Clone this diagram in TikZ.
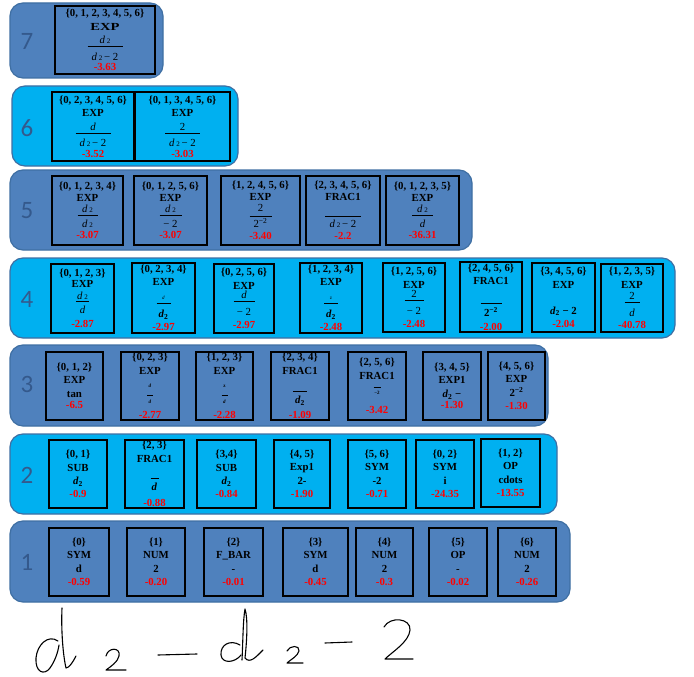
\documentclass[tikz,border=0pt]{standalone}
\usepackage{fontspec}
\setmainfont{Liberation Serif}
\newfontfamily\labfont{Carlito}
\definecolor{panD}{HTML}{4F81BD}
\definecolor{panL}{HTML}{00B0F0}
\definecolor{panE}{HTML}{3F6FA3}
\definecolor{labC}{HTML}{34598C}
\definecolor{valR}{HTML}{FF0000}
\newcommand\V[1]{\textcolor{valR}{#1}}
\newcommand\dS{\textit{d}\,{\scriptsize 2}}
\newcommand\dB{\textit{d}\textsubscript{2}}
\newcommand\Fr[4]{{\mdseries #1}\\[#4]\rule{#3}{0.6pt}\\{\mdseries #2}}
\newcommand\Bx[7]{\node[#7, minimum width=#4pt-#2pt, minimum height=#5pt-#3pt] (#1) at ({(#2+#4)/2},{(#3+#5)/2}) {#6};}
\tikzset{
  panel/.style={draw=panE, line width=1.2pt, rounded corners=13pt},
  lab/.style={font=\labfont\fontsize{25}{25}\selectfont, text=labC, inner sep=0pt},
  bx/.style={draw=black, line width=1.4pt, align=center, inner sep=0pt, font=\bfseries\fontsize{10.8}{13.5}\selectfont},
  bxs/.style={bx, font=\bfseries\fontsize{10.8}{11.5}\selectfont},
  hand/.style={draw=black, line width=1.1pt, line cap=round, line join=round}
}
\begin{document}
\begin{tikzpicture}[x=1pt,y=-1pt]
\useasboundingbox[fill=white] (0,0) rectangle (694,677);
% panels
\path[panel, fill=panD] (10,3) rectangle (163,78);
\path[panel, fill=panL] (12,86) rectangle (238,166);
\path[panel, fill=panD] (10,170) rectangle (472,250);
\path[panel, fill=panL] (10,258) rectangle (675,338);
\path[panel, fill=panD] (10,345) rectangle (548,426);
\path[panel, fill=panL] (10,434) rectangle (557,514);
\path[panel, fill=panD] (10,521) rectangle (570,602);
% row labels
\node[lab] (l7) at (27,41) {7};
\node[lab] (l6) at (27,128) {6};
\node[lab] (l5) at (27,211) {5};
\node[lab] (l4) at (27,299) {4};
\node[lab] (l3) at (27,384) {3};
\node[lab] (l2) at (27,475) {2};
\node[lab] (l1) at (27,562) {1};
% row 7
\Bx{r7a}{55}{6}{155}{74}{\{0, 1, 2, 3, 4, 5, 6\}\\\scalebox{1.35}[1]{EXP}\\\Fr{\dS}{\dS\,− 2}{35pt}{-10.5pt}\\[-3pt]\V{-3.63}}{bx}
% row 6
\Bx{r6a}{52}{92}{134}{161}{\{0, 2, 3, 4, 5, 6\}\\EXP\\\Fr{\textit{d}}{\dS\,− 2}{35pt}{-10.5pt}\\[-3pt]\V{-3.52}}{bx}
\Bx{r6b}{135}{92}{230}{161}{\{0, 1, 3, 4, 5, 6\}\\EXP\\\Fr{2}{\dS\,− 2}{35pt}{-10.5pt}\\[-3pt]\V{-3.03}}{bx}
% row 5
\Bx{r5a}{52}{176}{123}{245}{\{0, 1, 2, 3, 4\}\\EXP\\\Fr{\dS}{\dS}{20pt}{-8.5pt}\\\V{-3.07}}{bxs}
\Bx{r5b}{134}{176}{207}{245}{\{0, 1, 2, 5, 6\}\\EXP\\\Fr{\dS}{− 2}{22pt}{-8.5pt}\\\V{-3.07}}{bxs}
\Bx{r5c}{221}{176}{300}{245}{\{1, 2, 4, 5, 6\}\\EXP\\\Fr{2}{2\textsuperscript{−2}}{22pt}{-7pt}\\\V{-3.40}}{bxs}
\Bx{r5d}{306}{176}{380}{245}{\{2, 3, 4, 5, 6\}\\FRAC1\\\Fr{\mbox{}}{\dS\,− 2}{36pt}{-7pt}\\\V{-2.2}}{bxs}
\Bx{r5e}{386}{176}{459}{245}{\{0, 1, 2, 3, 5\}\\EXP\\\Fr{\dS}{\textit{d}}{21pt}{-8.5pt}\\\V{-36.31}}{bxs}
% row 4
\Bx{r4a}{51}{264}{114}{333}{\{0, 1, 2, 3\}\\EXP\\\Fr{\dS}{\textit{d}}{13pt}{-9pt}\\[3pt]\V{-2.87}}{bxs}
\Bx{r4b}{132}{263}{195}{333}{\{0, 2, 3, 4\}\\EXP\\\Fr{\tiny\textit{d}}{\bfseries\dB}{14pt}{-9pt}\\\V{-2.97}}{bx}
\Bx{r4c}{214}{264}{274}{333}{\{0, 2, 5, 6\}\\EXP\\[-4pt]\Fr{\textit{d}}{− 2}{21pt}{-10.5pt}\\\V{-2.97}}{bx}
\Bx{r4d}{300}{263}{362}{333}{\{1, 2, 3, 4\}\\EXP\\\Fr{\tiny z}{\bfseries\dB}{14pt}{-9pt}\\\V{-2.48}}{bx}
\Bx{r4e}{383}{263}{445}{332}{\{1, 2, 5, 6\}\\EXP\\[-4pt]\Fr{2}{− 2}{19pt}{-10.5pt}\\\V{-2.48}}{bx}
\Bx{r4f}{460}{262}{522}{332}{\{2, 4, 5, 6\}\\FRAC1\\[2pt]\Fr{\mbox{}}{\bfseries 2\textsuperscript{−2}}{21pt}{-10.5pt}\\\V{-2.00}}{bx}
\Bx{r4g}{532}{263}{595}{332}{\{3, 4, 5, 6\}\\EXP\\\mbox{}\\[-1pt]\dB\ − 2\\\V{-2.04}}{bx}
\Bx{r4h}{601}{264}{663}{332}{\{1, 2, 3, 5\}\\EXP\\[-2pt]\Fr{2}{\textit{d}}{15pt}{-10.5pt}\\[-1pt]\V{-40.78}}{bx}
% row 3
\Bx{r3a}{46}{352}{103}{420}{\{0, 1, 2\}\\EXP\\tan\\[-2pt]\V{-6.5}}{bx}
\Bx{r3b}{121}{352}{179}{420}{\{0, 2, 3\}\\EXP\\{\tiny\textit{d}}\\[-6pt]\rule{6pt}{0.6pt}\\[-5pt]{\tiny\textit{d}}\\[1pt]\V{-2.77}}{bx}
\Bx{r3c}{196}{352}{253}{420}{\{1, 2, 3\}\\EXP\\{\tiny z}\\[-6pt]\rule{6pt}{0.6pt}\\[-5pt]{\tiny\textit{d}}\\[1pt]\V{-2.28}}{bx}
\Bx{r3d}{271}{352}{329}{420}{\{2, 3, 4\}\\FRAC1\\[3.5pt]\rule{14pt}{0.6pt}\\[-1.5pt]\dB\\[1.5pt]\V{-1.09}}{bx}
\Bx{r3e}{348}{352}{406}{420}{\{2, 5, 6\}\\FRAC1\\[-5.5pt]\rule{7pt}{0.6pt}\\[-6.5pt]{\tiny −2}\\[6pt]\V{-3.42}}{bx}
\Bx{r3f}{423}{352}{481}{420}{\{3, 4, 5\}\\EXP1\\\dB\ −\\[-2pt]\V{-1.30}}{bx}
\Bx{r3g}{488}{352}{545}{420}{\{4, 5, 6\}\\EXP\\2\textsuperscript{−2}\\\V{-1.30}}{bx}
% row 2
\Bx{r2a}{49}{440}{107}{508}{\{0, 1\}\\SUB\\\dB\\[-1pt]\V{-0.9}}{bx}
\Bx{r2b}{125}{440}{184}{508}{\{2, 3\}\\FRAC1\\[2.5pt]\rule{8pt}{0.6pt}\\[-1.5pt]\textit{d}\\[2.5pt]\V{-0.88}}{bx}
\Bx{r2c}{197}{440}{256}{508}{\{3,4\}\\SUB\\\dB\\[-1pt]\V{-0.84}}{bx}
\Bx{r2d}{274}{440}{330}{508}{\{4, 5\}\\Exp1\\2-\\\V{-1.90}}{bx}
\Bx{r2e}{348}{440}{406}{508}{\{5, 6\}\\SYM\\-2\\\V{-0.71}}{bx}
\Bx{r2f}{416}{440}{474}{508}{\{0, 2\}\\SYM\\i\\\V{-24.35}}{bx}
\Bx{r2g}{481}{439}{540}{507}{\{1, 2\}\\OP\\cdots\\\V{-13.55}}{bx}
% row 1
\Bx{r1a}{49}{528}{109}{596}{\{0\}\\SYM\\d\\\V{-0.59}}{bx}
\Bx{r1b}{127}{528}{185}{596}{\{1\}\\NUM\\2\\\V{-0.20}}{bx}
\Bx{r1c}{204}{528}{263}{596}{\{2\}\\F\_BAR\\-\\\V{-0.01}}{bx}
\Bx{r1d}{283}{528}{348}{596}{\{3\}\\SYM\\d\\\V{-0.45}}{bx}
\Bx{r1e}{356}{528}{413}{596}{\{4\}\\NUM\\2\\\V{-0.3}}{bx}
\Bx{r1f}{429}{528}{487}{596}{\{5\}\\OP\\-\\\V{-0.02}}{bx}
\Bx{r1g}{498}{528}{556}{596}{\{6\}\\NUM\\2\\\V{-0.26}}{bx}
% handwriting
\path[hand] (58,641) .. controls (48,634) and (37,645) .. (36,658) .. controls (35,672) and (44,676) .. (50,668) .. controls (55,661) and (58,652) .. (59,645);
\path[hand] (62,608) .. controls (61,630) and (63,655) .. (66,668) .. controls (69,668) and (73,662) .. (76,656);
\path[hand] (106,656) .. controls (108,647) and (121,647) .. (119,656) .. controls (118,662) and (110,667) .. (106,670) -- (126,670);
\path[hand] (158,655) -- (197,654);
\path[hand] (240,645) .. controls (230,639) and (220,645) .. (221,655) .. controls (222,664) and (235,663) .. (241,655);
\path[hand] (242,660) .. controls (243,640) and (243,620) .. (245,609) .. controls (248,618) and (247,640) .. (245,658) .. controls (250,664) and (256,657) .. (263,650);
\path[hand] (287,651) .. controls (290,645) and (300,645) .. (299,651) .. controls (298,656) and (290,660) .. (287,663) -- (303,663);
\path[hand] (325,643) -- (352,642);
\path[hand] (384,627) .. controls (390,616) and (411,618) .. (410,630) .. controls (409,642) and (392,652) .. (385,659) -- (413,659);
\end{tikzpicture}
\end{document}
